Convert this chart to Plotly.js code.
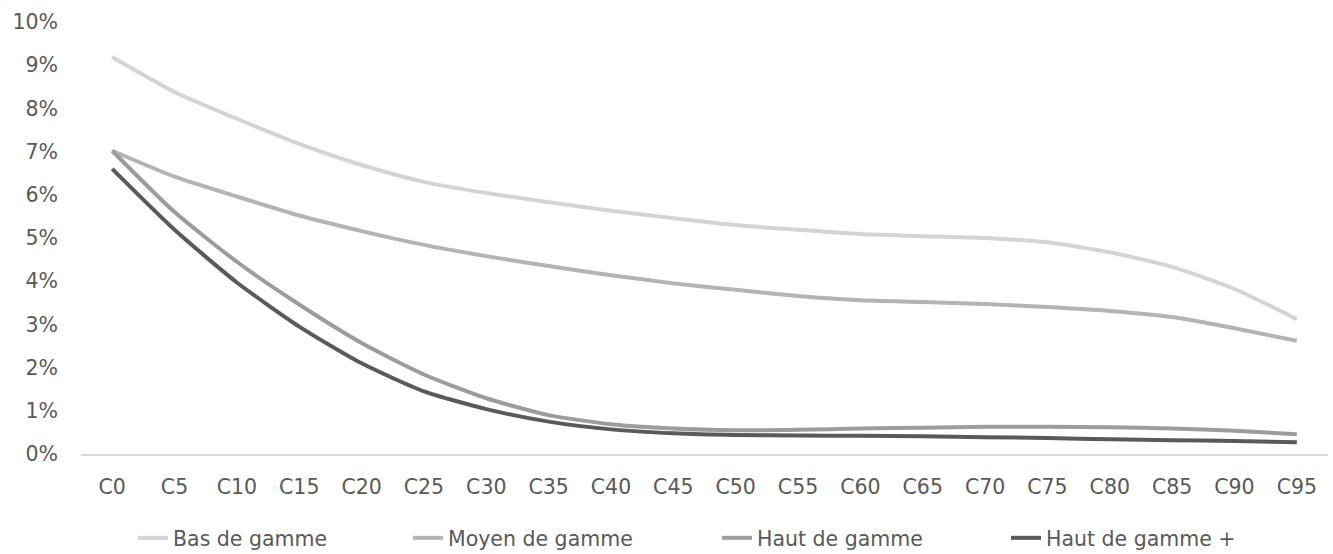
<!DOCTYPE html>
<html>
<head>
<meta charset="utf-8">
<script src="https://cdn.plot.ly/plotly-3.0.1.min.js"></script>
<style>html,body{margin:0;padding:0;background:#fff;}#chart{width:1333px;height:554px;}</style>
</head>
<body>
<div id="chart"></div>
<script>
var categories = ["C0","C5","C10","C15","C20","C25","C30","C35","C40","C45","C50","C55","C60","C65","C70","C75","C80","C85","C90","C95"];
var basDeGamme = [9.19, 8.38, 7.76, 7.18, 6.69, 6.30, 6.04, 5.83, 5.63, 5.46, 5.30, 5.19, 5.09, 5.04, 5.00, 4.90, 4.67, 4.33, 3.82, 3.12];
var moyenDeGamme = [7.02, 6.42, 5.96, 5.52, 5.16, 4.84, 4.58, 4.35, 4.14, 3.95, 3.80, 3.66, 3.56, 3.52, 3.47, 3.40, 3.31, 3.17, 2.91, 2.62];
var hautDeGamme = [7.02, 5.60, 4.45, 3.46, 2.57, 1.84, 1.29, 0.90, 0.69, 0.59, 0.55, 0.56, 0.59, 0.61, 0.63, 0.63, 0.62, 0.59, 0.54, 0.46];
var hautDeGammePlus = [6.60, 5.19, 3.97, 2.95, 2.10, 1.45, 1.04, 0.75, 0.57, 0.48, 0.44, 0.43, 0.42, 0.41, 0.39, 0.37, 0.34, 0.32, 0.30, 0.27];
var seriesNames = ["Bas de gamme", "Moyen de gamme", "Haut de gamme", "Haut de gamme +"];
var yTickVals = [0,1,2,3,4,5,6,7,8,9,10];
var yTickLabels = ["0%","1%","2%","3%","4%","5%","6%","7%","8%","9%","10%"];

var colors = ["#D4D4D4", "#B4B4B4", "#9C9C9C", "#5A5A5A"];
var seriesData = [basDeGamme, moyenDeGamme, hautDeGamme, hautDeGammePlus];
var legendIds = ["legend", "legend2", "legend3", "legend4"];
var FONT = "DejaVu Sans, Verdana, sans-serif";
var TXT = "#595959";

var traces = seriesData.map(function(vals, i){
  return {
    type: "scatter", mode: "lines",
    x: categories, y: vals, name: seriesNames[i],
    line: {color: colors[i], width: 4, shape: "spline", smoothing: 0.6},
    legend: legendIds[i],
    hoverinfo: "skip"
  };
});

function leg(px){
  return {
    orientation: "h", xref: "container", yref: "container",
    x: px/1333, xanchor: "left", y: 1 - 538/554, yanchor: "middle",
    font: {family: FONT, size: 20.5, color: TXT},
    bgcolor: "rgba(0,0,0,0)", borderwidth: 0, itemwidth: 30
  };
}

var layout = {
  width: 1333, height: 554,
  margin: {l: 81, r: 5, t: 22, b: 100, pad: 0},
  paper_bgcolor: "#fff", plot_bgcolor: "#fff",
  font: {family: FONT, size: 20.5, color: TXT},
  showlegend: true,
  legend: leg(133), legend2: leg(408), legend3: leg(717), legend4: leg(1006),
  xaxis: {
    type: "category", range: [-0.5, 19.5],
    showgrid: false, zeroline: false,
    showline: true, linecolor: "#D9D9D9", linewidth: 1.5,
    ticks: "", tickfont: {family: FONT, size: 20.5, color: TXT},
    ticklabelstandoff: 14, fixedrange: true
  },
  yaxis: {
    range: [0, 10], tickmode: "array", tickvals: yTickVals, ticktext: yTickLabels,
    showgrid: false, zeroline: false, showline: false,
    ticks: "", tickfont: {family: FONT, size: 20.5, color: TXT},
    ticklabelstandoff: 22, fixedrange: true
  }
};

Plotly.newPlot("chart", traces, layout, {displayModeBar: false, staticPlot: true});
</script>
</body>
</html>
